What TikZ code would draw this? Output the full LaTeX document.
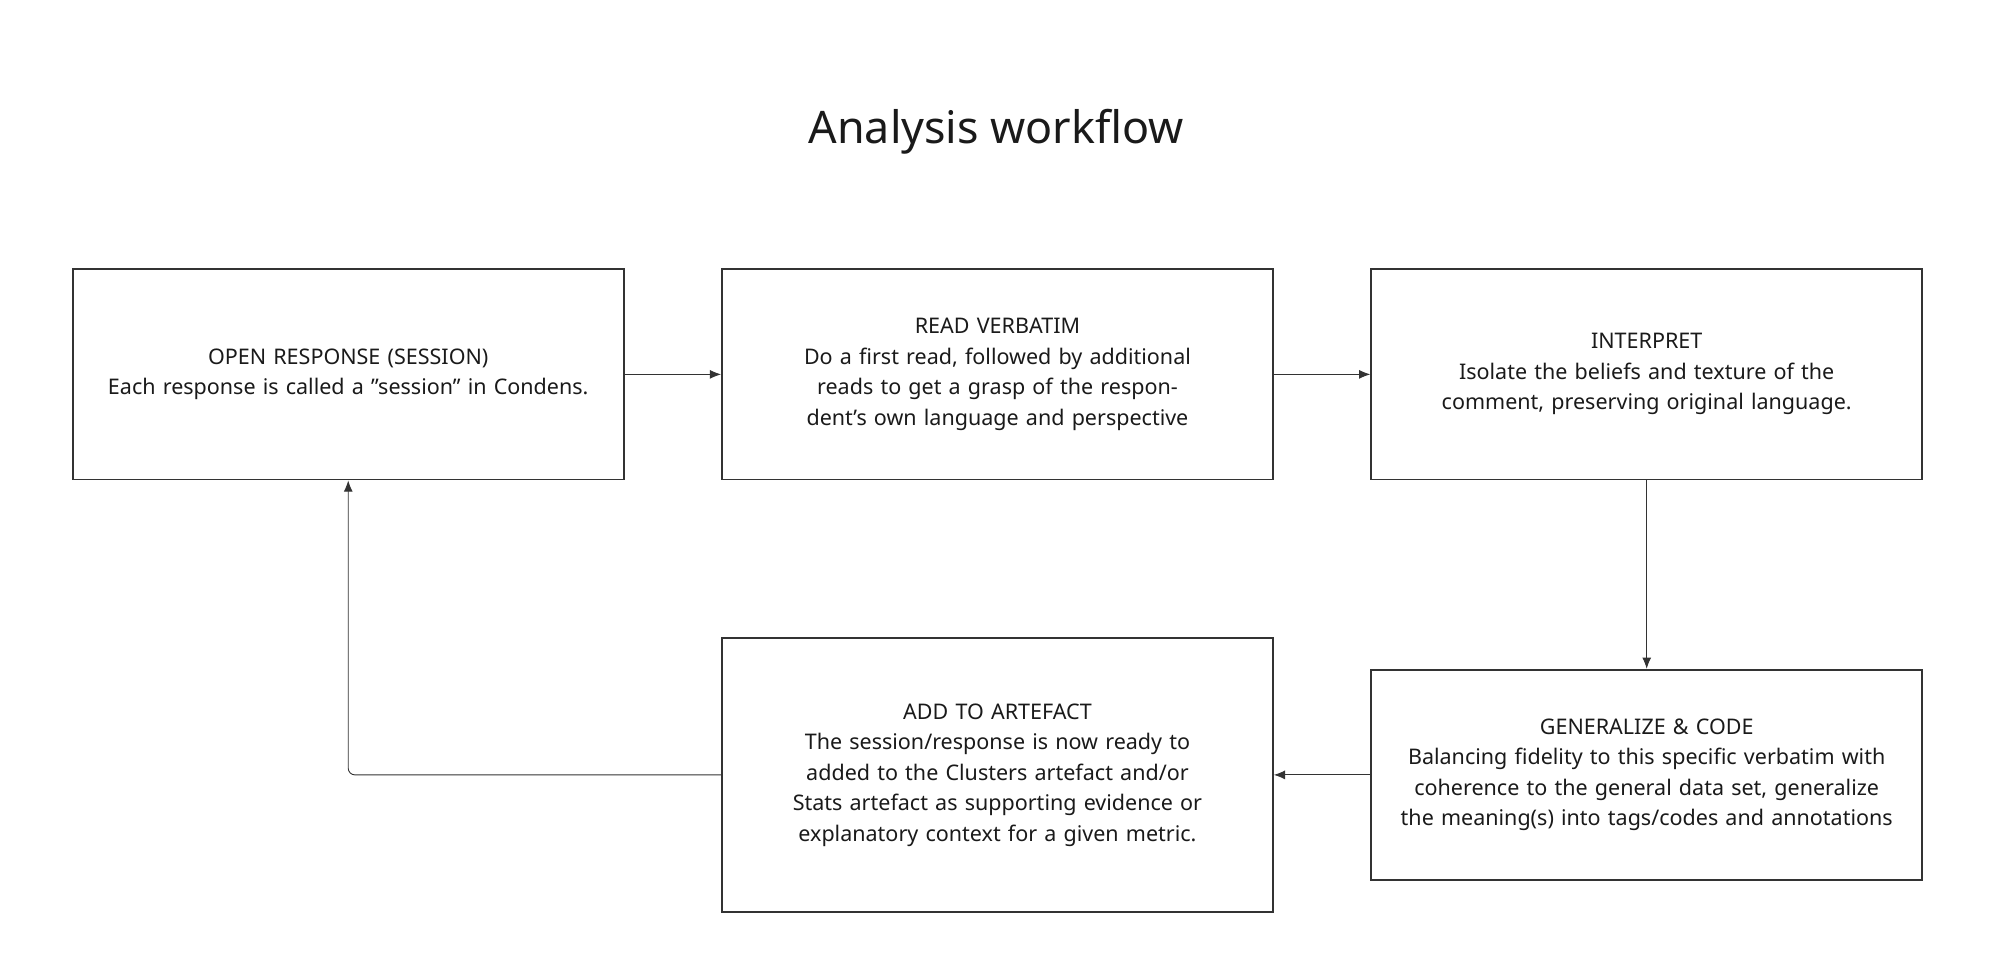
\documentclass[tikz,border=0pt]{standalone}
\usepackage{fontspec}
\setmainfont{Noto Sans}
\usetikzlibrary{positioning, arrows.meta}
\definecolor{cLine}{RGB}{51, 51, 51}
\definecolor{cText}{RGB}{26, 26, 26}
\tikzset{
  Step/.style={draw=cLine, thick, rectangle, minimum width=8.64cm,
    minimum height=3.3cm, text width=8.3cm, align=center, text=cText,
    font=\fontsize{9.6}{13.6}\selectfont},
  flow/.style={draw=cLine, -{Latex[length=5pt,width=4pt]}, rounded corners=3pt}
}
\begin{document}
\begin{tikzpicture}[x=0.02cm,y=-0.02cm]
  \useasboundingbox (0,0) rectangle (1568,768);
  \node [text=cText,font=\fontsize{20}{24}\selectfont] (title) at (781,103) {Analysis workflow};

  \node [Step] (open) at (273,293.5) {\textbf{OPEN RESPONSE (SESSION)}\\Each response is called a "session" in Condens.};
  \node [Step] (read) at (782,293.5) {\textbf{READ VERBATIM}\\Do a first read, followed by additional reads to get a grasp of the respondent's own language and perspective};
  \node [Step] (interp) at (1291,293.5) {\textbf{INTERPRET}\\Isolate the beliefs and texture of the comment, preserving original language.};
  \node [Step] (gen) at (1291,607.5) {\textbf{GENERALIZE \& CODE}\\Balancing fidelity to this specific verbatim with coherence to the general data set, generalize the meaning(s) into tags/codes and annotations};
  \node [Step,minimum height=4.3cm] (add) at (782,607.5) {\textbf{ADD TO ARTEFACT}\\The session/response is now ready to added to the Clusters artefact and/or Stats artefact as supporting evidence or explanatory context for a given metric.};

  % workflow arrows
  \draw [flow] (open) -- (read);
  \draw [flow] (read) -- (interp);
  \draw [flow] (interp) -- (gen);
  \draw [flow] (gen) -- (add);
  \draw [flow] (add.west) -| (open.south);
\end{tikzpicture}
\end{document}
